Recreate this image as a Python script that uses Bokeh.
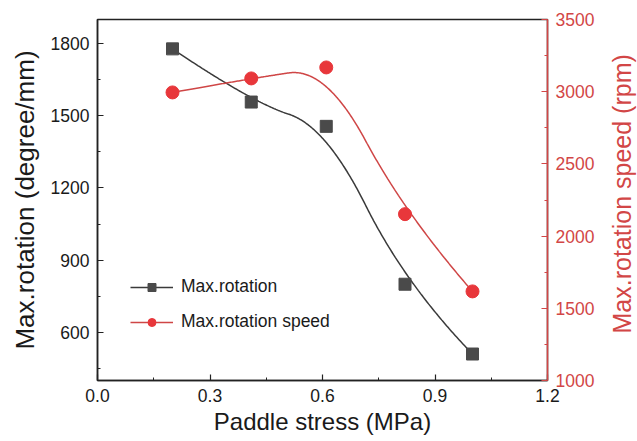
import math
import numpy as np
from bokeh.plotting import figure
from bokeh.layouts import row
from bokeh.models import (Range1d, LinearAxis, SingleIntervalTicker, PrintfTickFormatter,
                          Legend, LegendItem)
from bokeh.core.properties import value
from bokeh.embed import file_html
from bokeh.resources import INLINE

# Measured data
stress = [0.20, 0.41, 0.61, 0.82, 1.00]          # Paddle stress (MPa)
rotation = [1778, 1557, 1456, 800, 510]          # Max.rotation (degree/mm)
speed = [2995, 3092, 3168, 2152, 1617]           # Max.rotation speed (rpm)
right_title = ["Max.rotation speed (rpm)"]

BLACK_MARK = "#4a4a4a"
BLACK_LINE = "#3a3a3a"
RED_MARK = "#e8373b"
RED_LINE = "#cf4646"
RED_AXIS = "#d24646"
FONT = "Liberation Sans"


def bspline(xs, ys, degree=2, samples=300):
    """Clamped uniform B-spline that uses the data points as control points."""
    P = np.column_stack([xs, ys]).astype(float)
    n, k = len(P), degree
    knots = np.concatenate([np.zeros(k), np.arange(0, n - k + 1), np.full(k, n - k)]).astype(float)
    out = []
    for t in np.linspace(0, n - k, samples):
        s = min(int(np.searchsorted(knots, t, side="right")) - 1, n - 1)
        d = [P[j + s - k].copy() for j in range(k + 1)]
        for r in range(1, k + 1):
            for j in range(k, r - 1, -1):
                i = j + s - k
                a = (t - knots[i]) / (knots[i + k + 1 - r] - knots[i])
                d[j] = (1 - a) * d[j - 1] + a * d[j]
        out.append(d[k])
    out = np.array(out)
    return out[:, 0], out[:, 1]


p = figure(width=600, height=441, x_range=Range1d(0, 1.2), y_range=Range1d(400, 1900),
           output_backend="svg", toolbar_location=None,
           min_border_left=97, min_border_right=53, min_border_top=19, min_border_bottom=61,
           background_fill_color="white", border_fill_color="white")
p.extra_y_ranges = {"speed": Range1d(1000, 3500)}
p.xgrid.visible = False
p.ygrid.visible = False
p.outline_line_color = "#222222"
p.outline_line_width = 1.5


def style_axis(ax, color, text_color):
    ax.axis_line_color = color
    ax.axis_line_width = 1.5
    ax.major_tick_line_color = color
    ax.minor_tick_line_color = color
    ax.major_tick_line_width = 1.2
    ax.minor_tick_line_width = 1.0
    ax.major_tick_in = 6
    ax.major_tick_out = 0
    ax.minor_tick_in = 3
    ax.minor_tick_out = 0
    ax.major_label_text_font = FONT
    ax.major_label_text_font_size = "17.5px"
    ax.major_label_text_color = text_color
    ax.axis_label_text_font = FONT
    ax.axis_label_text_font_style = "normal"
    ax.axis_label_text_color = text_color
    ax.major_label_standoff = 8


xa = p.xaxis[0]
xa.ticker = SingleIntervalTicker(interval=0.3, num_minor_ticks=2)
xa.formatter = PrintfTickFormatter(format="%.1f")
xa.axis_label = "Paddle stress (MPa)"
style_axis(xa, "#222222", "#1a1a1a")
xa.axis_label_text_font_size = "24px"
xa.axis_label_standoff = 3

ya = p.yaxis[0]
ya.ticker = SingleIntervalTicker(interval=300, num_minor_ticks=2)
ya.axis_label = "Max.rotation (degree/mm)"
style_axis(ya, "#222222", "#1a1a1a")
ya.axis_label_text_font_size = "26px"
ya.axis_label_standoff = 8

ra = LinearAxis(y_range_name="speed", ticker=SingleIntervalTicker(interval=500, num_minor_ticks=2))
style_axis(ra, RED_AXIS, RED_AXIS)
p.add_layout(ra, "right")

# Smooth connecting curves
bx, by = bspline(stress, rotation)
rx, ry = bspline(stress, speed)
l1 = p.line(bx, by, line_color=BLACK_LINE, line_width=1.5)
l2 = p.line(rx, ry, line_color=RED_LINE, line_width=1.5, y_range_name="speed")

m1 = p.scatter(stress, rotation, marker="square", size=12, fill_color=BLACK_MARK,
               line_color=BLACK_MARK)
m2 = p.scatter(stress, speed, marker="circle", size=13, fill_color=RED_MARK,
               line_color=RED_MARK, y_range_name="speed")

legend = Legend(items=[LegendItem(label="Max.rotation", renderers=[l1, m1]),
                       LegendItem(label="Max.rotation speed", renderers=[l2, m2])],
                location=(33, 48), glyph_width=43, glyph_height=20, label_standoff=8,
                spacing=14, padding=0, margin=0, border_line_color=None,
                background_fill_alpha=0, label_text_font=FONT, label_text_font_size="17.5px",
                label_text_color="#1a1a1a")
p.add_layout(legend)

# Narrow strip holding the right-hand axis title, reading bottom to top
strip = figure(width=37, height=441, x_range=Range1d(0, 37), y_range=Range1d(0, 441),
               output_backend="svg", toolbar_location=None,
               min_border_left=0, min_border_right=0, min_border_top=0, min_border_bottom=0,
               border_fill_color="white", background_fill_color="white")
strip.axis.visible = False
strip.grid.visible = False
strip.outline_line_color = None
strip.text(x=[21], y=[228], text=right_title, angle=math.pi / 2,
           text_align="center", text_baseline="middle", text_font=value(FONT),
           text_font_size=value("25px"), text_color=RED_AXIS)

layout = row(p, strip, spacing=0)
open("out.html", "w").write(file_html(layout, INLINE))
